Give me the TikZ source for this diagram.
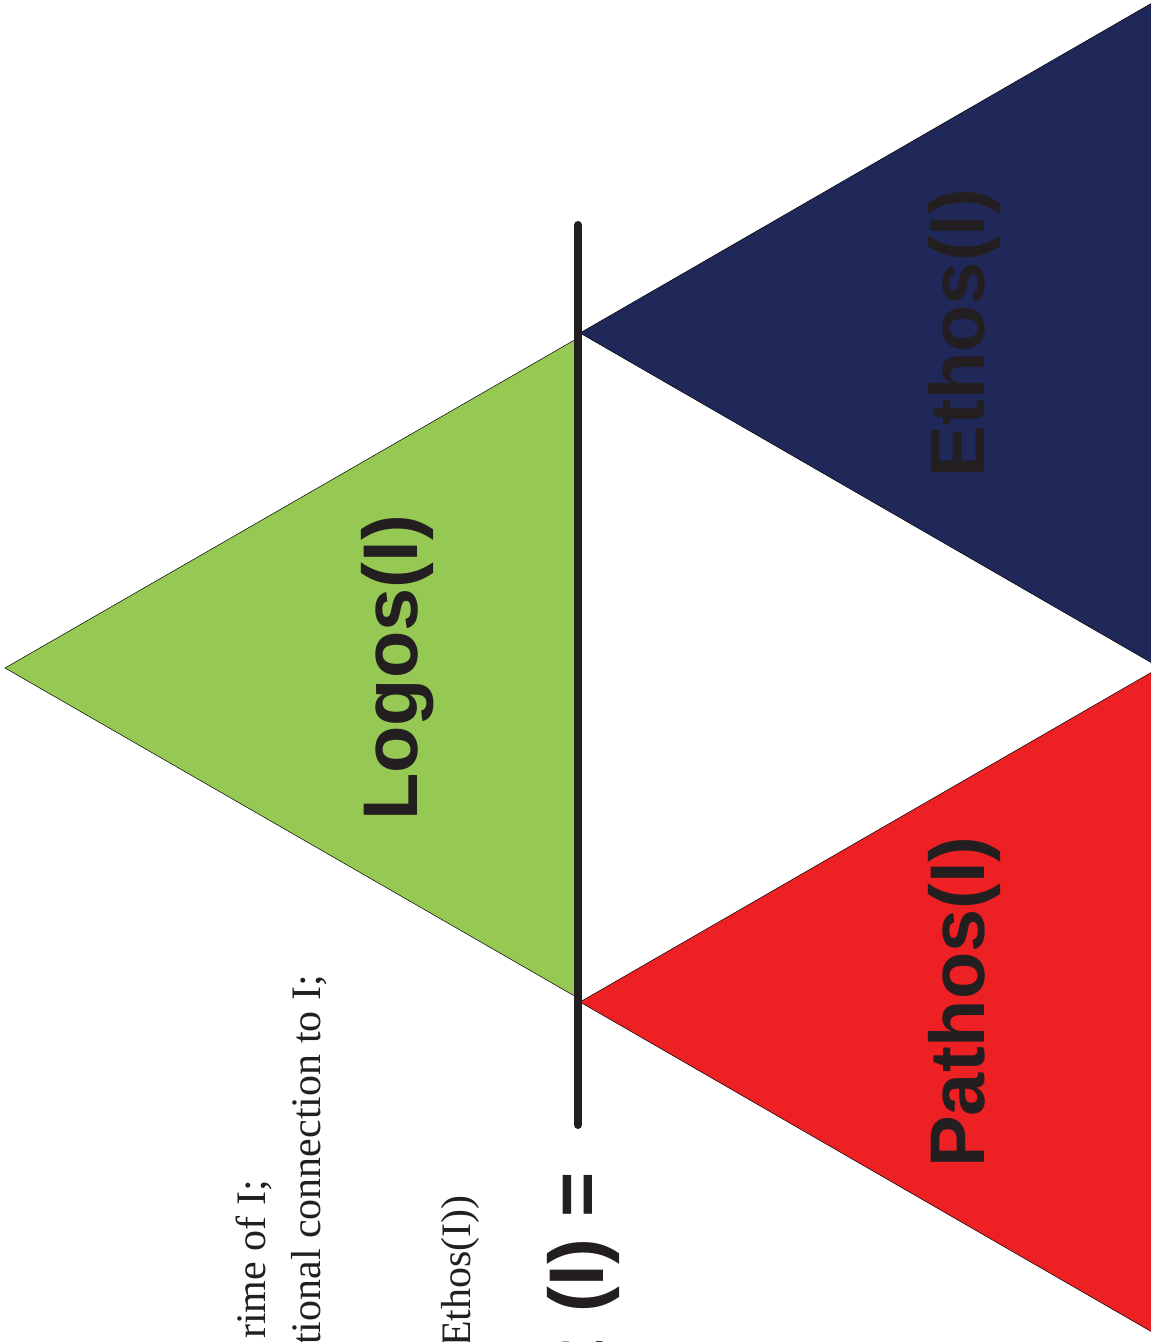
\documentclass[tikz,border=0pt]{standalone}
\usepackage{fontspec}
\setmainfont{Liberation Serif}
\newfontfamily\labelfont{Liberation Sans}
\definecolor{lgreen}{RGB}{150,201,84}
\definecolor{lnavy}{RGB}{31,40,89}
\definecolor{lred}{RGB}{237,32,36}
\definecolor{ink}{RGB}{35,31,32}
\tikzset{
  tri/.style={draw=black, line width=0.5pt, line join=miter},
  biglabel/.style={font=\labelfont\bfseries\fontsize{77.5}{80}\selectfont, text=ink, rotate=90, inner sep=0pt},
  bodytext/.style={font=\fontsize{42}{50}\selectfont, text=ink, rotate=90, inner sep=0pt, anchor=base east},
  bar/.style={draw=ink, line width=8pt, line cap=round}
}
\begin{document}
\begin{tikzpicture}[x=1pt,y=-1pt]
\useasboundingbox (0,0) rectangle (1151,1342);
% triangles
\fill[lgreen, tri] (5,668) -- (578,338) -- (578,998) -- cycle;
\fill[lnavy, tri] (580,333) -- (1152,3) -- (1152,663) -- cycle;
\fill[lred, tri] (580,1002) -- (1152,672) -- (1152,1332) -- cycle;
% vertical bar
\coordinate (bartop) at (578,225);
\coordinate (barbot) at (578,1125);
\draw[bar] (bartop) -- (barbot);
% labels
\node[biglabel, anchor=base] (logos) at (417,668) {Logos(I)};
\node[biglabel, anchor=base] (ethos) at (984,333) {Ethos(I)};
\node[biglabel, anchor=base] (pathos) at (984,1002) {Pathos(I)};
\node[biglabel, anchor=base east] (eq) at (603,1172) {t\hspace{7pt} (I) =};
% body text fragments
\node[bodytext] (l1) at (265,1180) {rime of I;};
\node[bodytext] (l2) at (320,975) {tional connection to I;};
\node[bodytext] (l3) at (470,1195) {Ethos(I))};
\end{tikzpicture}
\end{document}
